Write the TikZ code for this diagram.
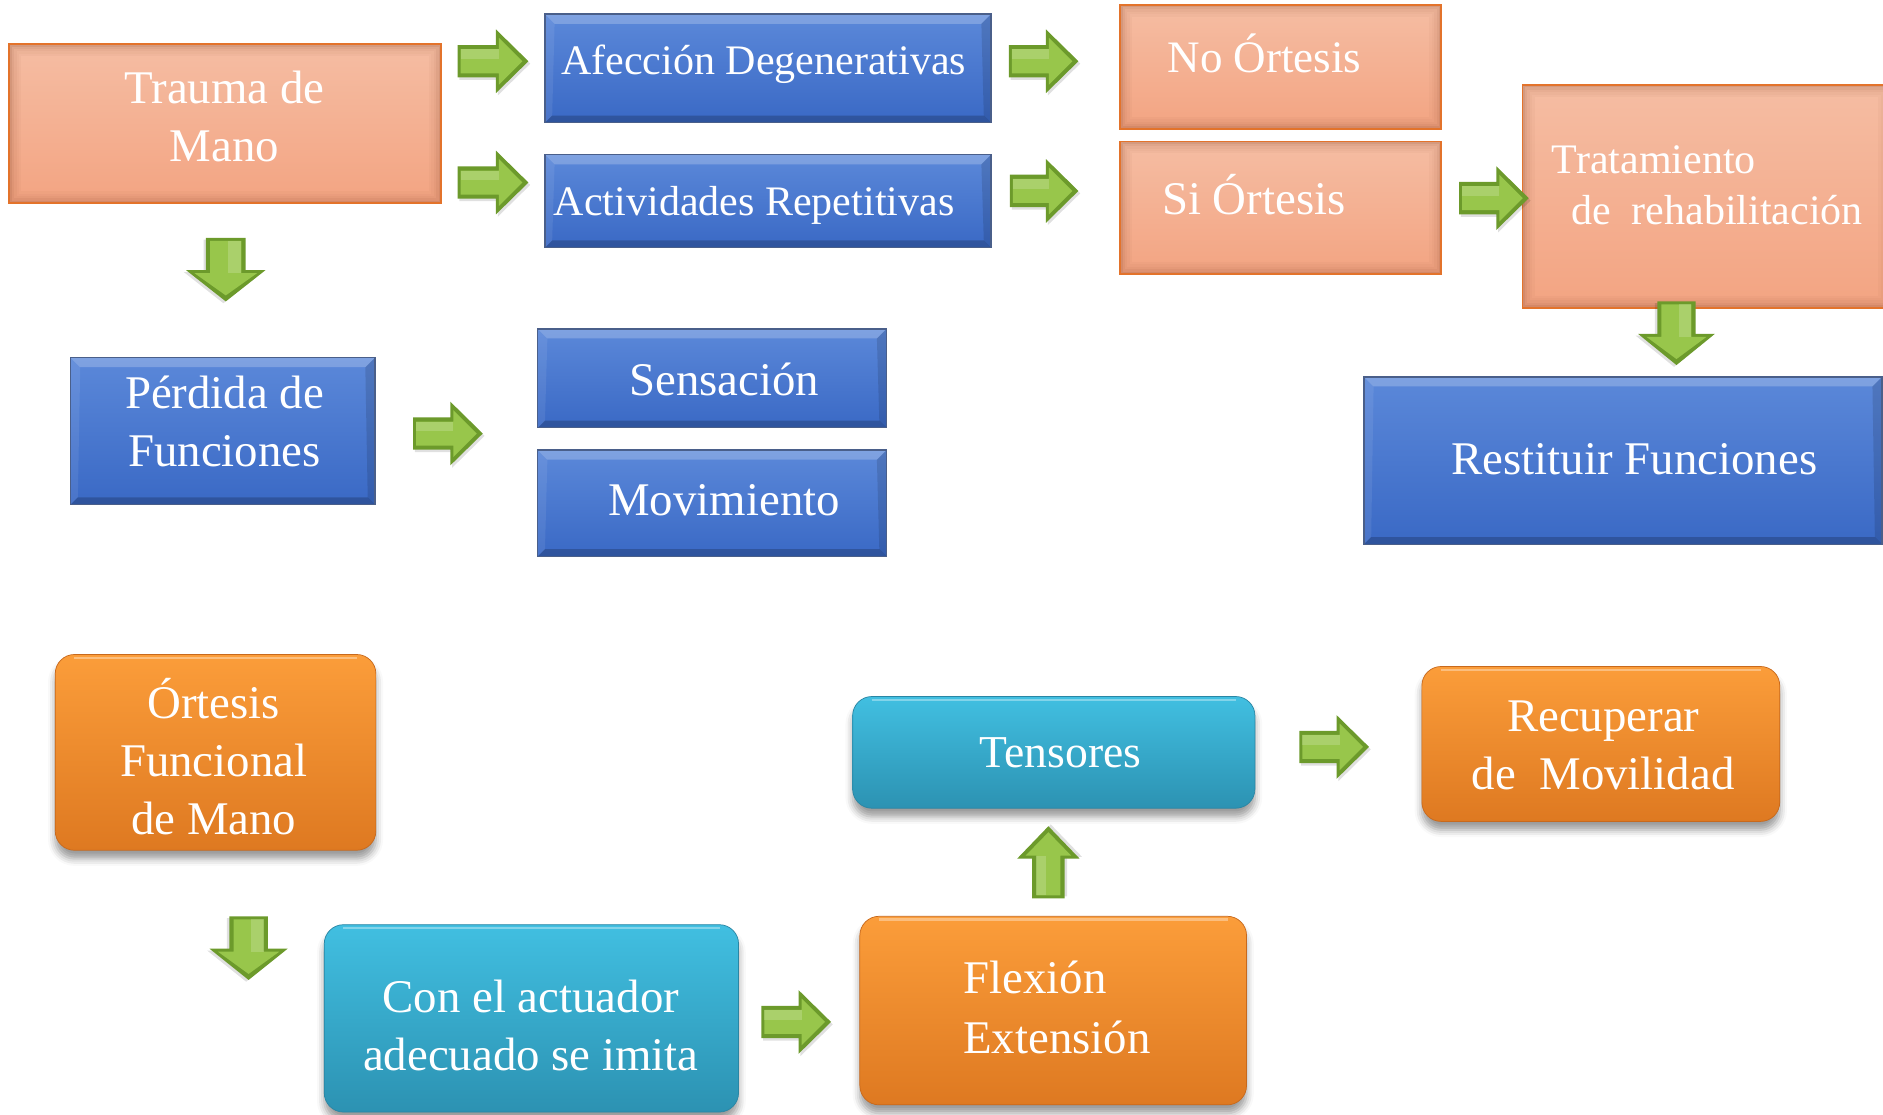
\documentclass[tikz,border=0pt]{standalone}
\usepackage{fontspec}
\setmainfont{Liberation Serif}
\usetikzlibrary{calc,fit,shadows.blur}

% palette
\definecolor{salmontop}{HTML}{F5BDA3}
\definecolor{salmonbot}{HTML}{F3A482}
\definecolor{salmonedge}{HTML}{E3732B}
\definecolor{salmonshade}{HTML}{8A4A2E}
\definecolor{bluetop}{HTML}{5B88D9}
\definecolor{bluebot}{HTML}{3A69C5}
\definecolor{blueedge}{HTML}{4A5F8A}
\definecolor{orangetop}{HTML}{FB9D3A}
\definecolor{orangebot}{HTML}{DE7921}
\definecolor{orangeedge}{HTML}{C8691C}
\definecolor{cyantop}{HTML}{41BFE1}
\definecolor{cyanbot}{HTML}{2C92B2}
\definecolor{cyanedge}{HTML}{2A86A4}
\definecolor{gdark}{HTML}{6C9A2B}
\definecolor{glight}{HTML}{98C64B}

\tikzset{
  salmonfill/.style={inner sep=0pt, top color=salmontop, bottom color=salmonbot},
  bluefill/.style={inner sep=0pt, top color=bluetop, bottom color=bluebot},
  orangefill/.style={inner sep=0pt, rounded corners=16pt, top color=orangetop,
    bottom color=orangebot, draw=orangeedge, line width=0.6pt,
    blur shadow={shadow xshift=0pt, shadow yshift=-7pt, shadow blur radius=6pt, shadow opacity=40}},
  cyanfill/.style={inner sep=0pt, rounded corners=16pt, top color=cyantop,
    bottom color=cyanbot, draw=cyanedge, line width=0.6pt,
    blur shadow={shadow xshift=0pt, shadow yshift=-7pt, shadow blur radius=6pt, shadow opacity=40}},
  txt/.style={text=white, align=center, inner sep=0pt,
    font=\fontsize{39}{48}\selectfont, text height=27pt, text depth=8pt},
  twolines/.style={text height=75pt},
  threelines/.style={text height=123pt},
  smalltxt/.style={txt, font=\fontsize{35}{43}\selectfont, text height=24.5pt, text depth=7pt},
}

% flat box with soft inner shadow and orange outline
\newcommand\salmonbox[5]{%
  \coordinate (#1-a) at (#2,#3);
  \coordinate (#1-b) at (#4,#5);
  \node[salmonfill, fit=(#1-a)(#1-b)] (#1) {};
  \foreach \k/\op in {1/0.30,3/0.20,5/0.13,7/0.08,9/0.04}
    \draw[line width=2pt, draw=salmonshade, opacity=\op]
      ($(#1.north west)+(\k,\k)$) rectangle ($(#1.south east)+(-\k,-\k)$);
  \draw[salmonedge, line width=1.6pt] (#1.north west) rectangle (#1.south east);
}

% bevelled blue button
\newcommand\bevelbox[5]{%
  \coordinate (#1-a) at (#2,#3);
  \coordinate (#1-b) at (#4,#5);
  \node[bluefill, fit=(#1-a)(#1-b)] (#1) {};
  \fill[white, opacity=0.22] (#1.north west) -- (#1.north east)
    -- ($(#1.north east)+(-8,8)$) -- ($(#1.north west)+(8,8)$) -- cycle;
  \fill[black, opacity=0.2] (#1.south west) -- (#1.south east)
    -- ($(#1.south east)+(-6,-6)$) -- ($(#1.south west)+(6,-6)$) -- cycle;
  \fill[white, opacity=0.08] (#1.north west) -- (#1.south west)
    -- ($(#1.south west)+(6,-6)$) -- ($(#1.north west)+(8,8)$) -- cycle;
  \fill[black, opacity=0.12] (#1.north east) -- (#1.south east)
    -- ($(#1.south east)+(-6,-6)$) -- ($(#1.north east)+(-8,8)$) -- cycle;
  \draw[blueedge, line width=1.2pt] (#1.north west) rectangle (#1.south east);
}

% rounded glossy box
\newcommand\roundbox[6]{%
  \coordinate (#1-a) at (#3,#4);
  \coordinate (#1-b) at (#5,#6);
  \node[#2, fit=(#1-a)(#1-b)] (#1) {};
  \draw[white, opacity=0.35, line width=2pt]
    ($(#1.north west)+(16,3)$) -- ($(#1.north east)+(-16,3)$);
}

% green block arrow: name, tail x, tail y, rotation, length, head width, shaft width, head length
\newcommand\garrow[8]{%
  \coordinate (#1) at (#2,#3);
  \begin{scope}[shift={(#1)}, rotate=#4]
    \fill[black, opacity=0.12, xshift=1.5pt, yshift=-2pt]
      (0,{-#7/2}) -- ({#5-#8},{-#7/2}) -- ({#5-#8},{-#6/2}) -- (#5,0)
      -- ({#5-#8},{#6/2}) -- ({#5-#8},{#7/2}) -- (0,{#7/2}) -- cycle;
    \fill[gdark]
      (0,{-#7/2}) -- ({#5-#8},{-#7/2}) -- ({#5-#8},{-#6/2}) -- (#5,0)
      -- ({#5-#8},{#6/2}) -- ({#5-#8},{#7/2}) -- (0,{#7/2}) -- cycle;
    \fill[glight]
      (2.5,{-#7/2+3.5}) -- ({#5-#8+2.5},{-#7/2+3.5}) -- ({#5-#8+2.5},{-#6/2+7})
      -- ({#5-5},0) -- ({#5-#8+2.5},{#6/2-7}) -- ({#5-#8+2.5},{#7/2-3.5})
      -- (2.5,{#7/2-3.5}) -- cycle;
    \fill[white, opacity=0.18]
      (2.5,{-#7/2+3.5}) -- ({#5-#8+2.5},{-#7/2+3.5}) -- ({#5-#8+2.5},-2)
      -- (2.5,-2) -- cycle;
  \end{scope}
}

\begin{document}
\begin{tikzpicture}[x=1pt, y=-1pt]
  \path[use as bounding box] (0,0) rectangle (1568,928);
  \clip (0,0) rectangle (1568,928);

  % top rows
  \salmonbox{trauma}{8}{37}{367}{169}
  \bevelbox{afeccion}{454}{12}{825}{102}
  \bevelbox{actividades}{454}{129}{825}{206}
  \salmonbox{noort}{933}{4}{1200}{107}
  \salmonbox{siort}{933}{118}{1200}{228}
  \salmonbox{trat}{1268}{71}{1574}{256}
  \bevelbox{perdida}{59}{298}{312}{420}
  \bevelbox{sens}{448}{274}{738}{356}
  \bevelbox{mov}{448}{375}{738}{463}
  \bevelbox{rest}{1136}{314}{1567}{453}

  % lower part
  \roundbox{ortesis}{orangefill}{46}{545}{313}{708}
  \roundbox{actuador}{cyanfill}{270}{770}{615}{926}
  \roundbox{tensores}{cyanfill}{710}{580}{1045}{673}
  \roundbox{recup}{orangefill}{1184}{555}{1482}{684}
  \roundbox{flex}{orangefill}{716}{763}{1038}{920}

  % block arrows
  \garrow{a1}{381}{51}{0}{59}{53}{27}{27}
  \garrow{a2}{381}{152}{0}{59}{53}{27}{27}
  \garrow{a3}{188}{198}{-90}{53}{66}{33}{26}
  \garrow{a4}{840}{51}{0}{58}{53}{27}{27}
  \garrow{a5}{841}{159}{0}{57}{53}{27}{27}
  \garrow{a6}{1215}{165}{0}{58}{53}{27}{27}
  \garrow{a7}{1396}{251}{-90}{53}{64}{32}{26}
  \garrow{a8}{344}{361}{0}{58}{53}{27}{27}
  \garrow{a9}{207}{763}{-90}{53}{65}{32}{26}
  \garrow{a10}{634}{851}{0}{58}{53}{27}{27}
  \garrow{a11}{873}{748}{90}{60}{52}{27}{27}
  \garrow{a12}{1082}{622}{0}{58}{53}{27}{27}

  % labels
  \node[txt, twolines] (trauma-t) at (187,101) {Trauma de\\Mano};
  \node[smalltxt] (afeccion-t) at (636,53) {Afección Degenerativas};
  \node[smalltxt] (actividades-t) at (628,171) {Actividades Repetitivas};
  \node[txt, font=\fontsize{37.5}{46}\selectfont] (noort-t) at (1053,51) {No Órtesis};
  \node[txt] (siort-t) at (1044,169) {Si Órtesis};
  \node[smalltxt, text height=67.5pt, align=left, anchor=west] (trat-t) at (1292,157)
    {Tratamiento\\\hspace*{16pt}de\ \ rehabilitación};
  \node[txt, twolines] (perdida-t) at (187,355) {Pérdida de\\Funciones};
  \node[txt] (sens-t) at (603,320) {Sensación};
  \node[txt] (mov-t) at (603,420) {Movimiento};
  \node[txt] (rest-t) at (1361,386) {Restituir Funciones};
  \node[txt, threelines] (ortesis-t) at (178,637) {Órtesis\\Funcional\\de Mano};
  \node[txt, twolines] (actuador-t) at (442,858) {Con el actuador\\adecuado se imita};
  \node[txt, font=\fontsize{38}{47}\selectfont] (tensores-t) at (883,630) {Tensores};
  \node[txt, twolines] (recup-t) at (1335,624) {Recuperar\\de\ \ Movilidad};
  \node[txt, text height=77pt, align=left, anchor=west, font=\fontsize{39}{50}\selectfont]
    (flex-t) at (802,843) {Flexión\\Extensión};
\end{tikzpicture}
\end{document}
